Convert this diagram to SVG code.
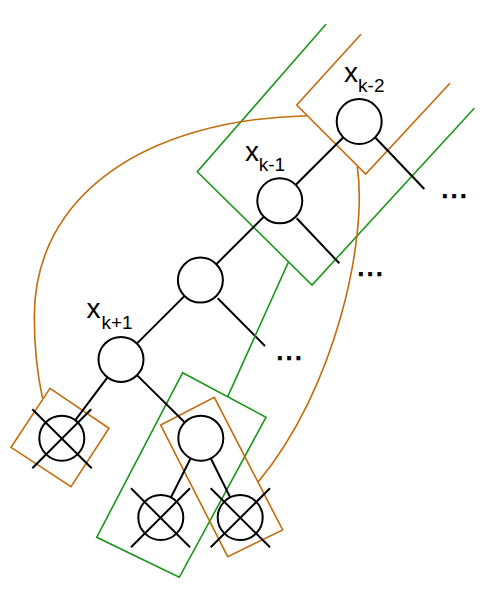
<svg xmlns="http://www.w3.org/2000/svg" width="500" height="601" viewBox="0 0 500 601">
<style>
.g{fill:none;stroke:#1a961a;stroke-width:1.6;stroke-linejoin:miter}
.o{fill:none;stroke:#c26c0c;stroke-width:1.6;stroke-linejoin:miter}
.e{fill:none;stroke:#000;stroke-width:2}
.c{fill:#fff;stroke:#000;stroke-width:2}
.lbl{font-family:"Liberation Sans",Arial,sans-serif;font-size:28px;fill:#000}
.sub{font-size:19px}
.dots{font-family:"Liberation Sans",Arial,sans-serif;font-size:33px;fill:#000;stroke:#000;stroke-width:0.7}
</style>
<rect width="500" height="601" fill="#fff"/>
<g id="regions">
<polyline class="g" points="326,24.3 197.3,171.7 312,285 474.3,108.3"/>
<polyline class="o" points="361,34.3 296.7,105 365.7,174 450,83.3"/>
<polygon class="g" points="182.7,372.7 266,417.3 179.3,577.3 96.7,537.3"/>
<polygon class="o" points="160.7,425 214.3,397.3 282.7,530 227.7,556.7"/>
<polygon class="o" points="50,388.3 109,428.3 71,486.7 11,447.3"/>
</g>
<g id="connectors">
<line class="e" x1="359.2" y1="121.5" x2="279.8" y2="200.8"/>
<line class="e" x1="279.8" y1="200.8" x2="200.4" y2="280.1"/>
<line class="e" x1="200.4" y1="280.1" x2="121" y2="359.4"/>
<line class="e" x1="121" y1="359.4" x2="61.8" y2="438.2"/>
<line class="e" x1="121" y1="359.4" x2="200.8" y2="438.2"/>
<line class="e" x1="200.8" y1="438.2" x2="160.8" y2="517.5"/>
<line class="e" x1="200.8" y1="438.2" x2="240.2" y2="517.5"/>
<line class="e" x1="375" y1="137.3" x2="424.3" y2="189"/>
<line class="e" x1="296.7" y1="218.3" x2="339.3" y2="263.3"/>
<line class="e" x1="217.7" y1="298.3" x2="265" y2="346"/>
<line class="g" x1="227.7" y1="396.7" x2="288.3" y2="262.3"/>
<path class="o" d="M306.7,115.7 C143.5,120 34.3,196 34.3,316.7 C34.3,350 37.5,375 42.5,398"/>
<path class="o" d="M357.3,166.7 C368,240 335,390 258.3,481.7"/>
</g>
<g id="node-xkm2">
<circle class="c" cx="359.2" cy="121.5" r="22.5"/>
<text class="lbl" x="344" y="81.7">x<tspan class="sub" x="358.1" y="91.7">k-2</tspan></text>
</g>
<g id="node-xkm1">
<circle class="c" cx="279.8" cy="200.8" r="22.5"/>
<text class="lbl" x="245" y="160.7">x<tspan class="sub" x="258.8" y="171">k-1</tspan></text>
</g>
<g id="node-mid">
<circle class="c" cx="200.4" cy="280.1" r="22.5"/>
</g>
<g id="node-xkp1">
<circle class="c" cx="121" cy="359.4" r="22.5"/>
<text class="lbl" x="86.5" y="318.3">x<tspan class="sub" x="101.5" y="329.3">k+1</tspan></text>
</g>
<g id="leaf-left">
<circle class="c" cx="61.8" cy="438.2" r="22.5"/>
<path class="e" d="M32.3,409.3 L91.7,468.3 M32.3,468.3 L91.2,409.3"/>
</g>
<g id="node-right">
<circle class="c" cx="200.8" cy="438.2" r="22.5"/>
</g>
<g id="leaf-bl">
<circle class="c" cx="160.8" cy="517.5" r="22.5"/>
<path class="e" d="M131,488.3 L190,547.3 M131,547.3 L190,488.3"/>
</g>
<g id="leaf-br">
<circle class="c" cx="240.2" cy="517.5" r="22.5"/>
<path class="e" d="M210.7,488.3 L270,547.3 M210.7,547.3 L270,488.3"/>
</g>
<g id="ellipses">
<text class="dots" x="440.3" y="198.3">...</text>
<text class="dots" x="356.3" y="275.7">...</text>
<text class="dots" x="275.3" y="359.5">...</text>
</g>
</svg>
